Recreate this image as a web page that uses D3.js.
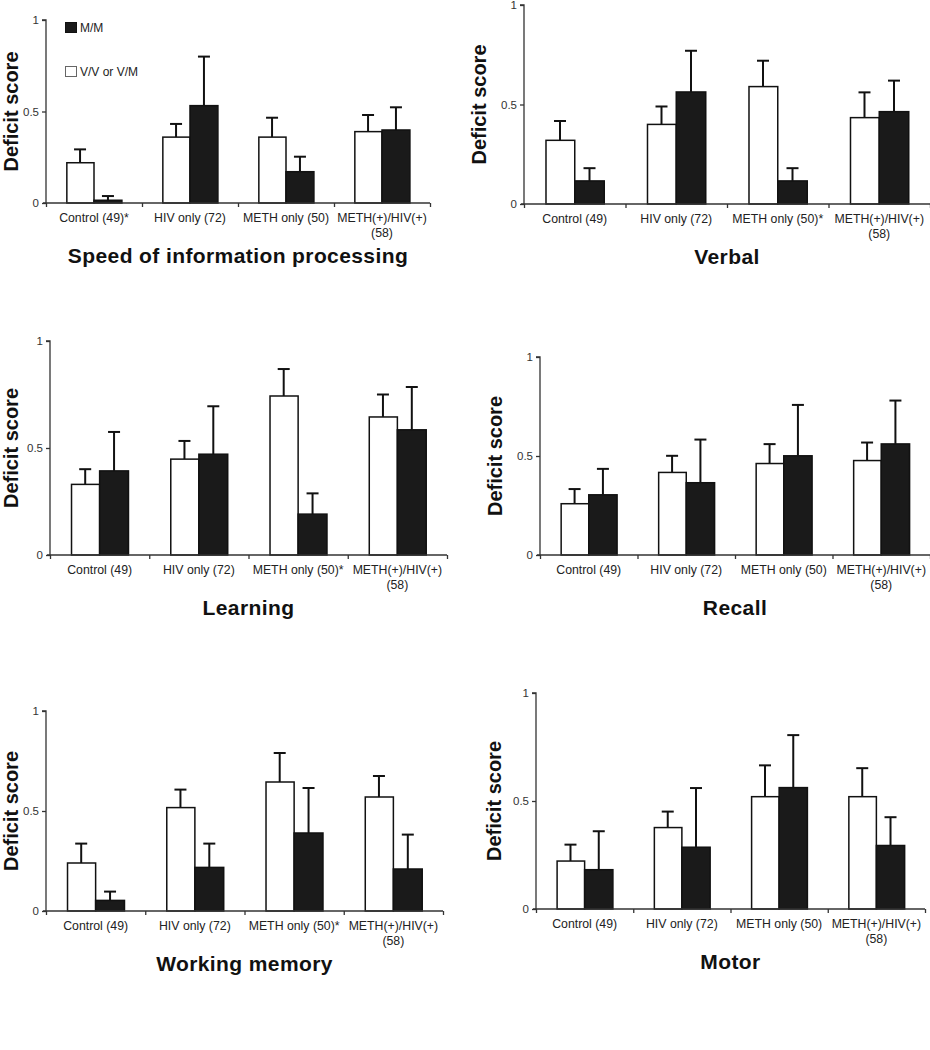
<!DOCTYPE html>
<html>
<head>
<meta charset="utf-8">
<script src="https://cdn.jsdelivr.net/npm/d3@7"></script>
<style>
  html, body { margin: 0; padding: 0; background: #fff; }
  svg { display: block; font-family: "Liberation Sans", Arial, sans-serif; }
</style>
</head>
<body>
<svg id="chart" width="930" height="1050"></svg>
<script>
// ---- DATA ----
const panelTitles = ["Speed of information processing", "Verbal", "Learning", "Recall", "Working memory", "Motor"];
const yTickValues = [0, 0.5, 1];
const yTickLabels = ["0", "0.5", "1"];
const yAxisLabel = "Deficit score";
const seriesNames = ["V/V or V/M", "M/M"];

const categoryLabels = [
  ["Control (49)*", "HIV only (72)", "METH only (50)", "METH(+)/HIV(+)\n(58)"],
  ["Control (49)", "HIV only (72)", "METH only (50)*", "METH(+)/HIV(+)\n(58)"],
  ["Control (49)", "HIV only (72)", "METH only (50)*", "METH(+)/HIV(+)\n(58)"],
  ["Control (49)", "HIV only (72)", "METH only (50)", "METH(+)/HIV(+)\n(58)"],
  ["Control (49)", "HIV only (72)", "METH only (50)*", "METH(+)/HIV(+)\n(58)"],
  ["Control (49)", "HIV only (72)", "METH only (50)", "METH(+)/HIV(+)\n(58)"]
];

// V/V or V/M (white bars): mean and upper error-bar end
const vvMeans = [
  [0.22, 0.36, 0.36, 0.39],
  [0.32, 0.40, 0.59, 0.434],
  [0.33, 0.448, 0.743, 0.645],
  [0.259, 0.417, 0.462, 0.477],
  [0.24, 0.517, 0.645, 0.57],
  [0.222, 0.377, 0.52, 0.52]
];
const vvUpper = [
  [0.293, 0.432, 0.466, 0.481],
  [0.417, 0.49, 0.72, 0.561],
  [0.401, 0.533, 0.869, 0.75],
  [0.333, 0.501, 0.56, 0.568],
  [0.337, 0.607, 0.79, 0.675],
  [0.298, 0.451, 0.665, 0.652]
];
// M/M (black bars): mean and upper error-bar end
const mmMeans = [
  [0.015, 0.532, 0.171, 0.399],
  [0.116, 0.563, 0.116, 0.464],
  [0.393, 0.471, 0.191, 0.585],
  [0.304, 0.365, 0.501, 0.561],
  [0.053, 0.218, 0.39, 0.21],
  [0.182, 0.286, 0.562, 0.294]
];
const mmUpper = [
  [0.038, 0.80, 0.253, 0.523],
  [0.18, 0.77, 0.18, 0.62],
  [0.575, 0.695, 0.288, 0.785],
  [0.435, 0.583, 0.758, 0.78],
  [0.097, 0.337, 0.615, 0.382],
  [0.36, 0.56, 0.805, 0.425]
];

// ---- LAYOUT (pixels) ----
const layout = [
  { x0: 46,  x1: 430, yTop: 20,  yBot: 203, labelX: 11 },
  { x0: 524, x1: 930, yTop: 5,   yBot: 204, labelX: 479 },
  { x0: 50,  x1: 447, yTop: 341, yBot: 555, labelX: 11 },
  { x0: 540, x1: 930, yTop: 357, yBot: 555, labelX: 495 },
  { x0: 46,  x1: 443, yTop: 711, yBot: 911, labelX: 11 },
  { x0: 536, x1: 925, yTop: 693, yBot: 909, labelX: 494 }
];

const svg = d3.select("#chart");
const axisColor = "#333";
const barBlack = "#1a1a1a";

panelTitles.forEach((title, p) => {
  const L = layout[p];
  const cats = categoryLabels[p];
  const g = svg.append("g");

  const x = d3.scaleBand().domain(d3.range(cats.length)).range([L.x0, L.x1]).paddingInner(0).paddingOuter(0);
  const xs = d3.scaleBand().domain([0, 1]).range([0, x.bandwidth()]).paddingInner(0).paddingOuter(0.72);
  const y = d3.scaleLinear().domain([0, 1]).range([L.yBot, L.yTop]);

  const rows = cats.map((c, i) => ([
    { cat: i, s: 0, v: vvMeans[p][i], u: vvUpper[p][i] },
    { cat: i, s: 1, v: mmMeans[p][i], u: mmUpper[p][i] }
  ])).flat();

  // error bars (upward only), drawn behind bars
  const eb = g.append("g").attr("stroke", "#111").attr("stroke-width", 2).attr("fill", "none");
  rows.forEach(d => {
    const cx = x(d.cat) + xs(d.s) + xs.bandwidth() / 2;
    eb.append("line").attr("x1", cx).attr("x2", cx).attr("y1", y(d.v)).attr("y2", y(d.u));
    eb.append("line").attr("x1", cx - 6).attr("x2", cx + 6).attr("y1", y(d.u)).attr("y2", y(d.u));
  });

  // bars
  g.append("g").selectAll("rect").data(rows).join("rect")
    .attr("x", d => x(d.cat) + xs(d.s) + (d.s === 0 ? 0.75 : 0))
    .attr("y", d => y(d.v))
    .attr("width", d => xs.bandwidth() - (d.s === 0 ? 0.75 : 0))
    .attr("height", d => y(0) - y(d.v))
    .attr("fill", d => d.s === 0 ? "#fff" : barBlack)
    .attr("stroke", "#111")
    .attr("stroke-width", 1.5);

  // y axis
  const yAxis = d3.axisLeft(y).tickValues(yTickValues).tickFormat((d, i) => yTickLabels[i]).tickSize(4).tickPadding(3);
  const ya = g.append("g").attr("transform", `translate(${L.x0},0)`).call(yAxis);
  ya.select(".domain").attr("stroke", axisColor).attr("stroke-width", 1.3).attr("d", `M-4,${L.yTop}H0V${L.yBot}`);
  ya.selectAll(".tick line").attr("stroke", axisColor).attr("stroke-width", 1.3);
  ya.selectAll(".tick text").attr("fill", "#333").style("font-size", "11.5px").style("font-family", "Liberation Sans, Arial, sans-serif");

  // x axis: ticks at band boundaries
  const xBoundary = d3.scaleLinear().domain([0, cats.length]).range([L.x0, L.x1]);
  const xAxis = d3.axisBottom(xBoundary).tickValues(d3.range(cats.length + 1)).tickFormat("").tickSize(4).tickSizeOuter(0);
  const xa = g.append("g").attr("transform", `translate(0,${L.yBot})`).call(xAxis);
  xa.select(".domain").attr("stroke", axisColor).attr("stroke-width", 1.3).attr("d", `M${L.x0 - 3},0H${L.x1}`);
  xa.selectAll(".tick line").attr("stroke", axisColor).attr("stroke-width", 1.3);

  // category labels
  cats.forEach((c, i) => {
    const t = g.append("text")
      .attr("x", x(i) + x.bandwidth() / 2)
      .attr("y", L.yBot + 19)
      .attr("text-anchor", "middle")
      .attr("fill", "#222")
      .style("font-size", "12.3px");
    c.split("\n").forEach((line, k) => {
      t.append("tspan").attr("x", x(i) + x.bandwidth() / 2).attr("dy", k === 0 ? 0 : 15).text(line);
    });
  });

  // y axis label
  g.append("text")
    .attr("transform", `translate(${L.labelX},${(L.yTop + L.yBot) / 2}) rotate(-90)`)
    .attr("text-anchor", "middle")
    .attr("dominant-baseline", "central")
    .attr("fill", "#111")
    .style("font-size", "20px")
    .style("font-weight", "bold")
    .text(yAxisLabel);

  // panel title
  g.append("text")
    .attr("x", (L.x0 + L.x1) / 2)
    .attr("y", L.yBot + 60)
    .attr("text-anchor", "middle")
    .attr("fill", "#111")
    .style("font-size", "21px")
    .style("font-weight", "bold")
    .style("letter-spacing", "0.4px")
    .text(title);
});

// legend (panel 1)
const legendItems = [
  { name: seriesNames[1], fill: barBlack, yy: 22 },
  { name: seriesNames[0], fill: "#fff", yy: 66 }
];
const lg = svg.append("g");
legendItems.forEach(it => {
  lg.append("rect").attr("x", 65.5).attr("y", it.yy + 0.5).attr("width", 11).attr("height", 10)
    .attr("fill", it.fill).attr("stroke", it.fill === "#fff" ? "#666" : "#111").attr("stroke-width", 1);
  lg.append("text").attr("x", 80).attr("y", it.yy + 10).attr("fill", "#222").style("font-size", "12px").text(it.name);
});
</script>
</body>
</html>
